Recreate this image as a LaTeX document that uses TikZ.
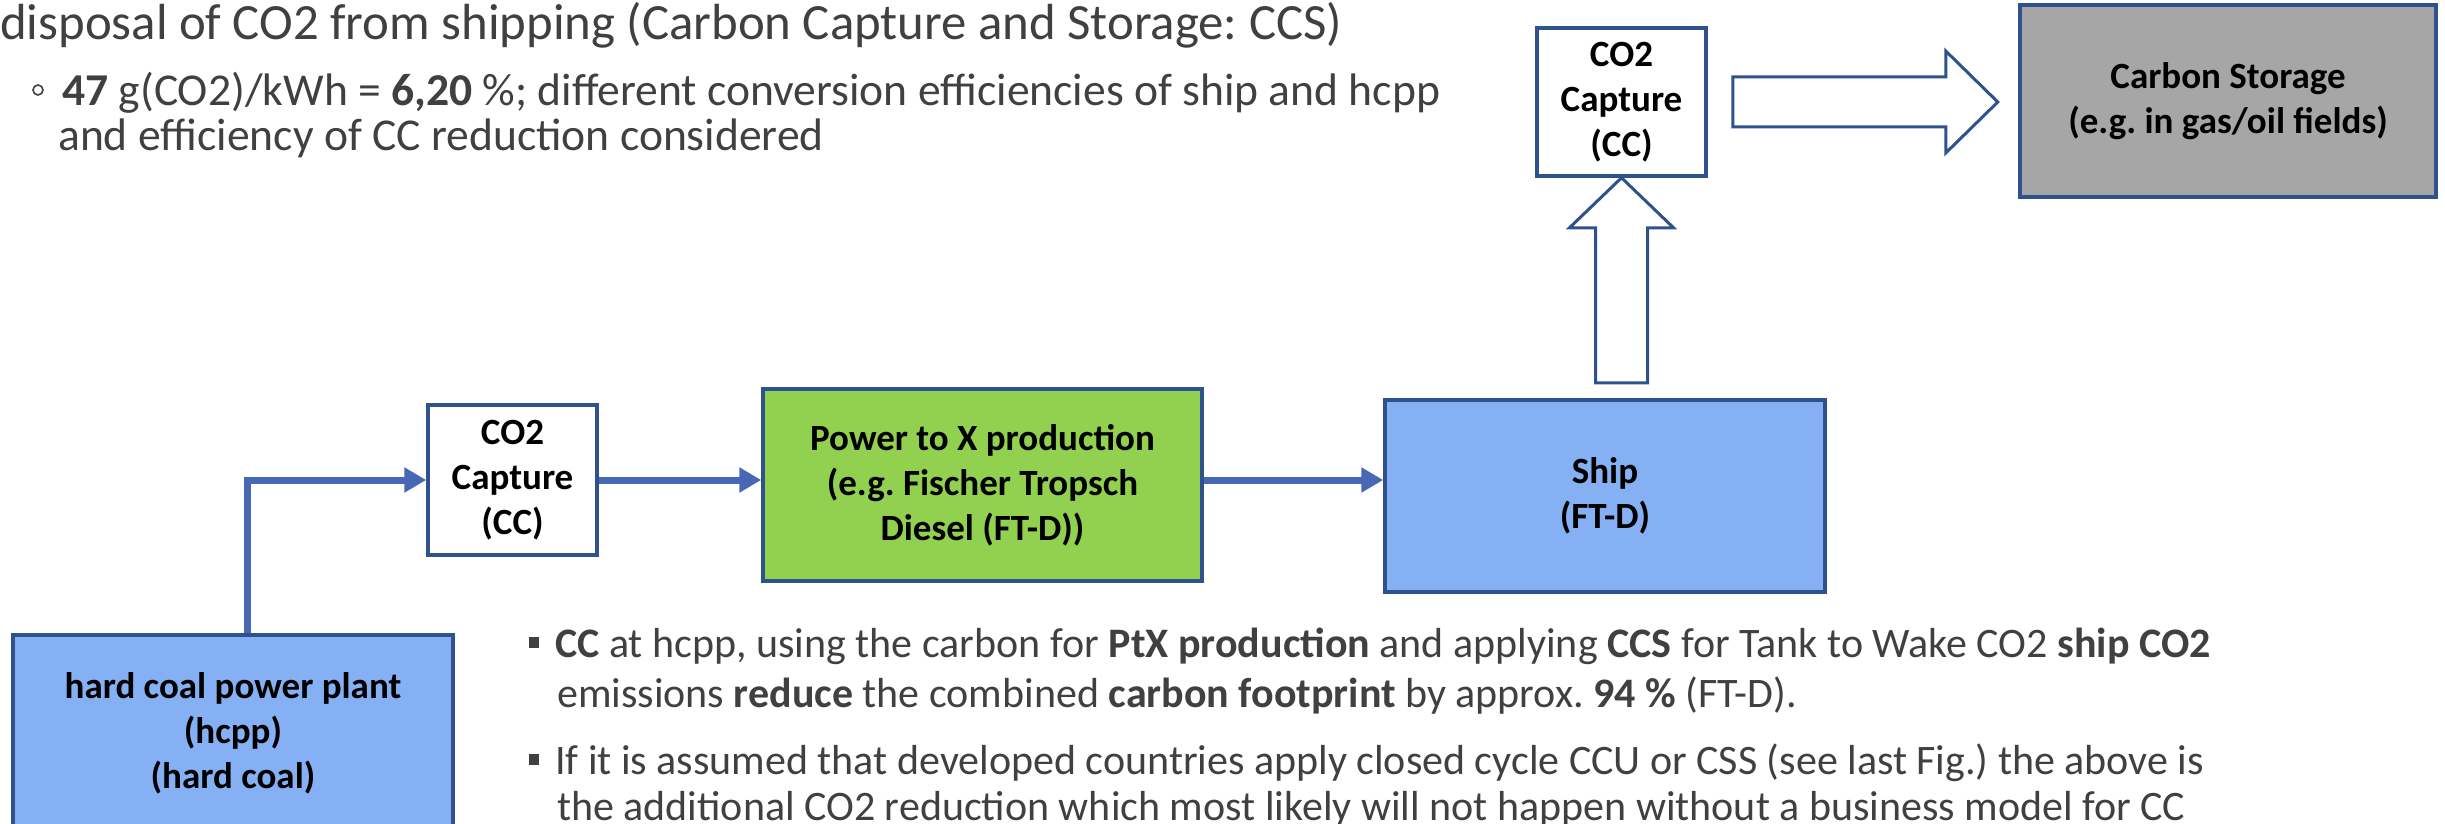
\documentclass[tikz,border=0pt]{standalone}
\usepackage{fontspec}
\setmainfont{Carlito}
\usetikzlibrary{arrows.meta}
\definecolor{edge}{HTML}{2F528F}
\definecolor{flow}{HTML}{4768B4}
\definecolor{skyfill}{HTML}{85B0F3}
\definecolor{leaf}{HTML}{92D050}
\definecolor{stone}{HTML}{A6A6A6}
\definecolor{ink}{HTML}{404040}
\frenchspacing

\begin{document}
\begin{tikzpicture}[x=1pt,y=-1pt,
  box/.style={draw=edge, line width=3.5pt, rectangle, align=center,
    font=\fontsize{37}{45}\selectfont\bfseries, inner sep=0pt},
  flowarrow/.style={draw=flow, line width=7pt, -{Triangle[length=22pt,width=24pt]}},
  hollow/.style={draw=edge, line width=3pt, fill=white, line join=miter},
  body/.style={anchor=base west, text=ink, inner sep=0pt, font=\fontsize{42}{50}\selectfont},
]
\useasboundingbox (0,0) rectangle (2445,824);

% process boxes
\node[box, fill=skyfill, minimum width=440pt, minimum height=196pt] (hcpp) at (233,733)
  {hard coal power plant\\(hcpp)\\(hard coal)};
\node[box, fill=white, minimum width=169pt, minimum height=150pt] (cca) at (512.5,480)
  {CO2\\Capture\\(CC)};
\node[box, fill=leaf, minimum width=439pt, minimum height=192pt] (ptx) at (982.5,485)
  {Power to X production\\(e.g. Fischer Tropsch\\Diesel (FT-D))};
\node[box, fill=skyfill, minimum width=440pt, minimum height=192pt] (ship) at (1605,496)
  {Ship\\(FT-D)};
\node[box, fill=white, minimum width=169pt, minimum height=148pt] (ccb) at (1621.5,102)
  {CO2\\Capture\\(CC)};
\node[box, fill=stone, minimum width=416pt, minimum height=192pt] (store) at (2228,101)
  {Carbon Storage\\(e.g. in gas/oil fields)};

% solid flow connectors
\draw[flowarrow] ([xshift=14pt]hcpp.north) |- (cca.west);
\draw[flowarrow] (cca.east) -- (cca.east -| ptx.west);
\draw[flowarrow] (cca.east -| ptx.east) -- (cca.east -| ship.west);

% hollow block arrows
\draw[hollow] ([xshift=25pt,yshift=25pt]ccb.east) -- ++(213,0) -- ++(0,-26) -- ++(52,51)
  -- ++(-52,51) -- ++(0,-26) -- ++(-213,0) -- cycle;
\draw[hollow] (ccb.south) -- ++(52,50) -- ++(-26,0) -- ++(0,155) -- ++(-52,0)
  -- ++(0,-155) -- ++(-26,0) -- cycle;

% heading text
\node[body, font=\fontsize{50.8}{60}\selectfont] (title) at (0,40)
  {disposal of CO2 from shipping (Carbon Capture and Storage: CCS)};
\draw[ink, line width=1.6pt] (38,90) circle (5pt);
\node[body, font=\fontsize{45.6}{50}\selectfont] (notea) at (62,106)
  {\textbf{47} g(CO2)/kWh = \textbf{6,20} \%; different conversion efficiencies of ship and hcpp};
\node[body, font=\fontsize{45.6}{50}\selectfont] (noteb) at (58,150)
  {and efficiency of CC reduction considered};

% bullet points
\fill[ink] (529,637) rectangle (539,648);
\node[body] (pa1) at (555,657)
  {\textbf{CC} at hcpp, using the carbon for \textbf{PtX production} and applying \textbf{CCS} for Tank to Wake CO2 \textbf{ship CO2}};
\node[body] (pa2) at (557,707)
  {emissions \textbf{reduce} the combined \textbf{carbon footprint} by approx. \textbf{94 \%} (FT-D).};
\fill[ink] (529,754) rectangle (539,765);
\node[body] (pb1) at (555,774)
  {If it is assumed that developed countries apply closed cycle CCU or CSS (see last Fig.) the above is};
\node[body] (pb2) at (557,820)
  {the additional CO2 reduction which most likely will not happen without a business model for CC};
\end{tikzpicture}
\end{document}
